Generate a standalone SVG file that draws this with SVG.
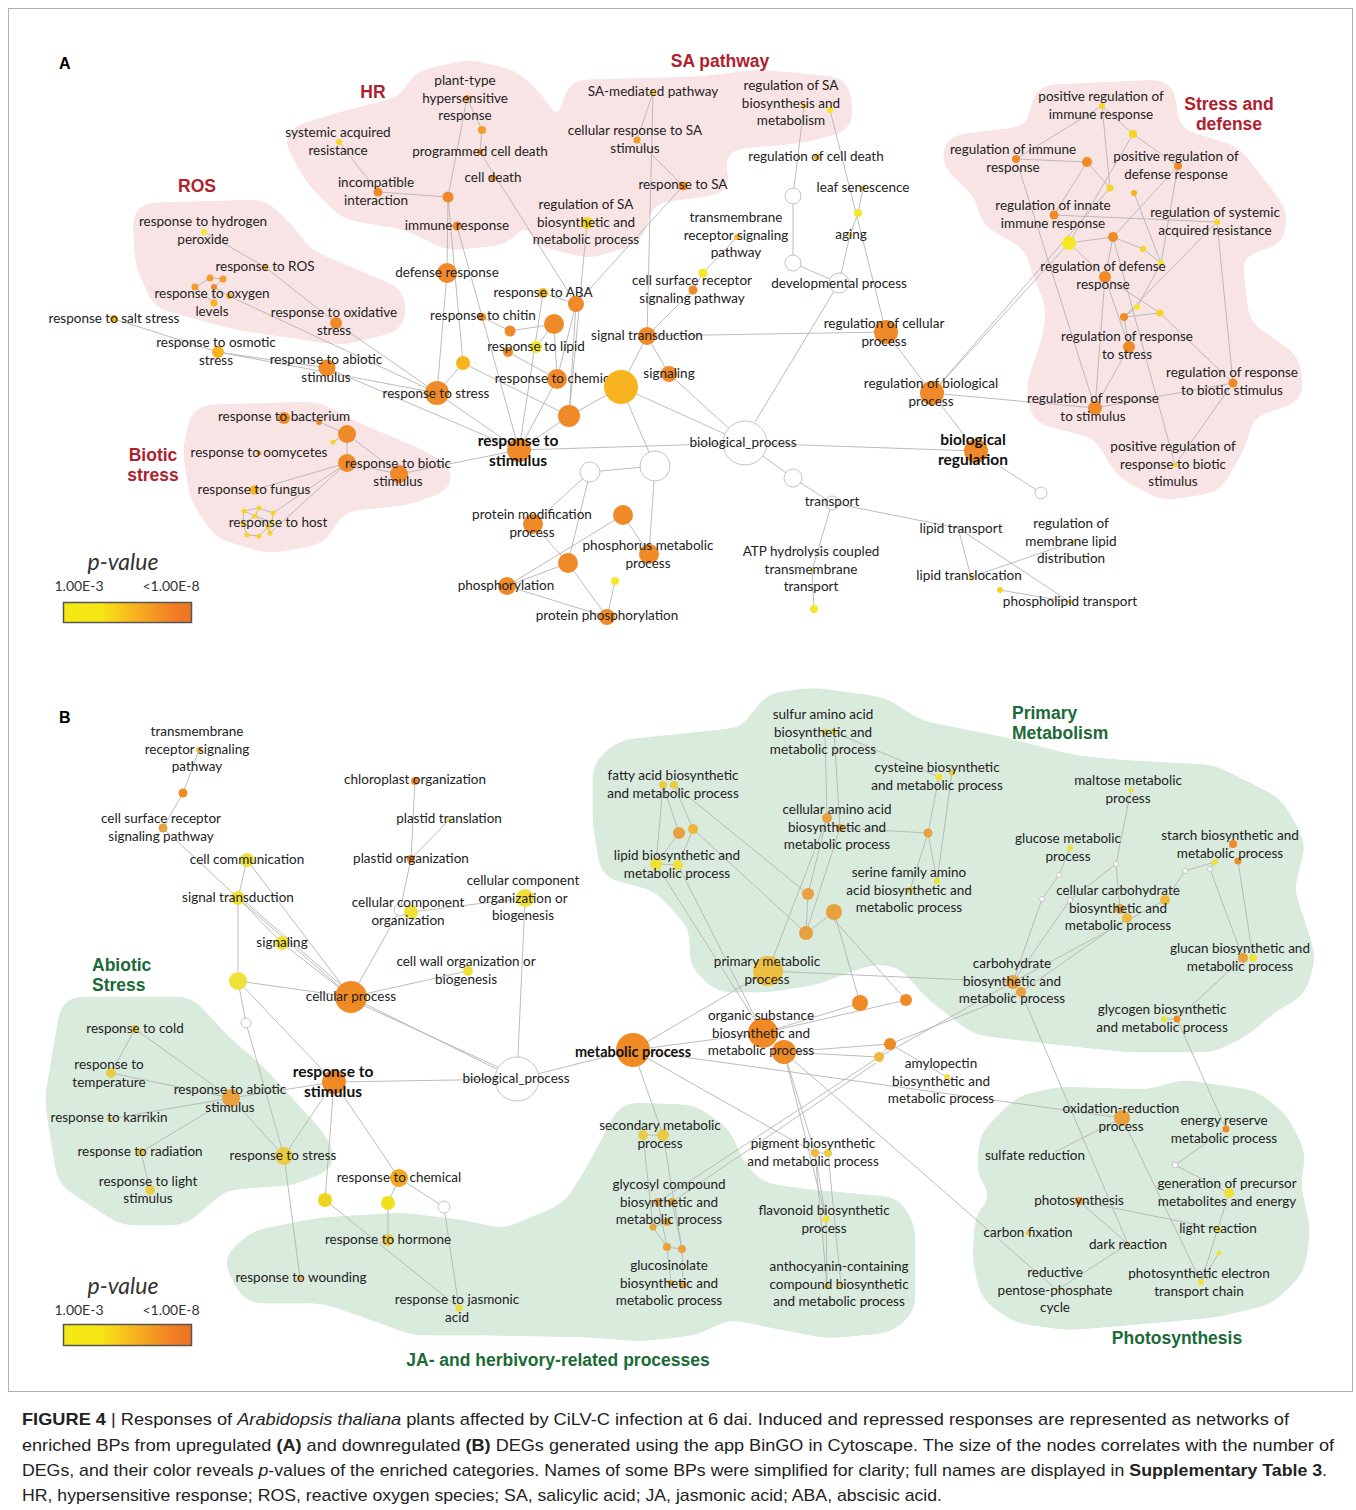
<svg xmlns="http://www.w3.org/2000/svg" width="1356" height="1510" viewBox="0 0 1356 1510">
<defs>
<linearGradient id="pv" x1="0" y1="0" x2="1" y2="0">
<stop offset="0" stop-color="#f3ea12"/><stop offset="0.3" stop-color="#f6e514"/><stop offset="0.55" stop-color="#f7b41e"/><stop offset="0.85" stop-color="#f17f25"/><stop offset="1" stop-color="#ee7322"/>
</linearGradient>
<filter id="goo" x="-5%" y="-5%" width="110%" height="110%">
<feGaussianBlur stdDeviation="9"/>
<feColorMatrix values="1 0 0 0 0  0 1 0 0 0  0 0 1 0 0  0 0 0 30 -14"/>
</filter>
<style>
.pk{fill:#f9e4e5;stroke:#f9e4e5;stroke-width:30;stroke-linejoin:round}
.gn{fill:#d9ebdc;stroke:#d9ebdc;stroke-width:30;stroke-linejoin:round}
.e path{stroke:#b4b4b4;stroke-width:0.9;fill:none}
.c1{fill:#f5e626}.c2{fill:#f7d51f}.c3{fill:#f7b41f}.c4{fill:#f39c2a}.c5{fill:#f08a28}
.cw{fill:#fff;stroke:#c4c4c4;stroke-width:1}
.d1{fill:#efe03a}.d2{fill:#e9cb45}.d3{fill:#edb83c}.d4{fill:#e9a03f}.d5{fill:#ef8a25}
.t{font-family:Lato,"Open Sans",sans-serif;font-size:13.5px;fill:#222;text-anchor:middle}
.tb{font-family:Lato,"Open Sans",sans-serif;font-size:15.5px;font-weight:bold;fill:#111;text-anchor:middle}
.gr{font-family:"Liberation Sans",Arial,sans-serif;font-weight:bold;font-size:17.5px;fill:#b0212d;text-anchor:middle}
.gg{font-family:"Liberation Sans",Arial,sans-serif;font-weight:bold;font-size:17.5px;fill:#1b6a37}
.pl{font-family:"Liberation Sans",Arial,sans-serif;font-weight:bold;font-size:16px;fill:#000}
.lg{font-family:Lato,"Open Sans",sans-serif;font-size:14px;fill:#333;text-anchor:middle}
.lgi{font-family:Lato,"Open Sans",sans-serif;font-size:23px;font-style:italic;fill:#333;text-anchor:middle}
.cap{font-family:"Liberation Sans Narrow","Liberation Sans",Arial,sans-serif;font-size:17px;fill:#222}
</style>
</defs>
<rect x="0" y="0" width="1356" height="1510" fill="#fff"/>
<rect x="8.5" y="8.5" width="1344" height="1383" fill="none" stroke="#b0b0b0" stroke-width="1"/>

<g id="clusters" filter="url(#goo)">
<polygon class="pk" points="300,140 350,125 410,110 425,85 470,75 510,85 535,110 540,150 525,195 500,230 450,235 410,215 350,205 320,175"/>
<polygon class="pk" points="148,218 260,215 285,240 300,262 390,300 390,318 340,330 240,315 165,295 150,260"/>
<polygon class="pk" points="580,95 700,92 760,85 835,92 838,118 800,128 720,135 705,165 715,180 640,190 630,230 590,243 545,232 555,200 575,180 575,130"/>
<polygon class="pk" points="1048,100 1160,95 1165,140 1230,160 1272,215 1270,232 1225,245 1235,330 1285,365 1288,390 1240,405 1232,440 1210,478 1165,485 1128,465 1105,425 1045,410 1042,385 1058,340 1062,305 1045,265 1040,240 995,215 990,190 958,160 958,150 1040,140"/>
<polygon class="pk" points="205,420 315,417 360,440 420,465 438,478 405,490 335,497 315,530 270,538 225,525 205,495 198,450"/>
<polygon class="gn" points="75,1012 185,1012 220,1050 250,1075 310,1140 320,1158 290,1170 220,1175 180,1210 125,1210 72,1175 60,1100"/>
<polygon class="gn" points="608,770 625,755 750,742 775,708 815,703 880,712 915,735 1000,752 1070,770 1115,775 1210,780 1270,810 1290,845 1278,890 1290,925 1300,957 1292,985 1265,1000 1240,1022 1210,1037 1130,1037 1063,1030 1013,1024 980,1020 960,1005 935,985 910,955 880,948 857,953 813,970 767,977 723,977 705,960 705,923 663,877 615,865 608,823"/>
<polygon class="gn" points="240,1262 260,1245 320,1233 400,1228 460,1235 505,1245 575,1215 600,1175 630,1118 690,1120 718,1140 730,1170 755,1197 810,1205 890,1212 900,1230 900,1305 885,1318 827,1323 775,1313 727,1303 693,1320 640,1326 590,1322 486,1320 415,1320 380,1307 326,1288 254,1288"/>
<polygon class="gn" points="995,1140 1025,1110 1060,1102 1150,1105 1183,1095 1250,1105 1275,1125 1290,1155 1285,1185 1295,1230 1290,1265 1265,1290 1215,1302 1150,1308 1067,1315 1020,1308 995,1290 988,1260 990,1220 1015,1200 992,1170"/>
</g>

<g id="group-labels">
<text class="pl" x="59" y="69">A</text>
<text class="pl" x="59" y="723">B</text>
<text class="gr" x="373" y="98">HR</text>
<text class="gr" x="197" y="192">ROS</text>
<text class="gr" x="720" y="67">SA pathway</text>
<text class="gr" x="1229" y="110">Stress and<tspan x="1229" dy="20">defense</tspan></text>
<text class="gr" x="153" y="461">Biotic<tspan x="153" dy="20">stress</tspan></text>
<text class="gg" x="92" y="971">Abiotic<tspan x="92" dy="20">Stress</tspan></text>
<text class="gg" x="1012" y="719">Primary<tspan x="1012" dy="20">Metabolism</tspan></text>
<text class="gg" x="558" y="1366" text-anchor="middle">JA- and herbivory-related processes</text>
<text class="gg" x="1177" y="1344" text-anchor="middle">Photosynthesis</text>
</g>

<g id="connectors" class="e">
<path d="M339 142L378 192"/><path d="M378 192L448 197"/><path d="M448 197L467 98"/><path d="M467 98L482 130"/><path d="M482 130L480 152"/><path d="M480 152L576 304"/><path d="M448 197L463 363"/><path d="M457 226L519 450"/><path d="M448 197L447 273"/><path d="M447 273L437 393"/>
<path d="M204 232L265 267"/><path d="M265 267L336 323"/><path d="M336 323L437 393"/>
<path d="M210 278L223 279"/><path d="M210 278L195 287"/><path d="M223 279L214 287"/><path d="M195 287L214 303"/><path d="M214 287L229 296"/><path d="M214 287L214 303"/><path d="M229 296L437 393"/>
<path d="M114 319L218 352"/><path d="M218 352L327 368"/><path d="M218 352L437 393"/><path d="M327 368L519 450"/><path d="M437 393L519 450"/><path d="M437 393L463 363"/><path d="M463 363L569 416"/>
<path d="M482 317L510 331"/><path d="M510 331L554 324"/><path d="M508 352L557 379"/><path d="M536 347L554 324"/><path d="M543 293L576 304"/><path d="M543 293L519 450"/><path d="M576 304L557 379"/><path d="M576 304L569 416"/><path d="M554 324L557 379"/><path d="M557 379L519 450"/><path d="M569 416L519 450"/><path d="M569 416L621 387"/>
<path d="M587 223L569 416"/><path d="M683 186L576 304"/><path d="M653 93L637 140"/><path d="M637 140L683 186"/><path d="M653 93L647 336"/>
<path d="M804 106L793 196"/><path d="M793 196L793 263"/><path d="M793 263L839 283"/><path d="M830 110L886 332"/>
<path d="M863 188L858 213"/><path d="M858 213L850 235"/><path d="M850 235L839 283"/><path d="M839 283L755 422"/>
<path d="M737 237L703 273"/><path d="M703 273L693 290"/><path d="M693 290L647 336"/><path d="M647 336L886 332"/><path d="M647 336L669 374"/><path d="M647 336L621 387"/><path d="M669 374L745 443"/><path d="M621 387L655 466"/><path d="M621 387L745 443"/>
<path d="M519 450L745 443"/><path d="M745 443L976 451"/><path d="M976 451L932 393"/><path d="M932 393L886 332"/><path d="M932 393L1095 408"/><path d="M932 393L1069 243"/><path d="M932 393L1110 188"/><path d="M976 451L1041 493"/>
<path d="M745 443L793 478"/><path d="M793 478L832 503"/><path d="M832 503L958 528"/><path d="M958 528L971 577"/><path d="M958 528L1070 602"/><path d="M971 577L1073 542"/><path d="M1000 590L1070 602"/><path d="M832 503L812 570"/><path d="M812 570L814 609"/>
<path d="M655 466L590 472"/><path d="M590 472L533 524"/><path d="M590 472L568 563"/><path d="M655 466L649 554"/><path d="M533 524L568 563"/><path d="M623 515L649 554"/><path d="M568 563L507 586"/><path d="M568 563L607 617"/><path d="M507 586L607 617"/><path d="M607 617L615 581"/><path d="M507 586L623 515"/>
<path d="M1102 106L1110 188"/><path d="M1102 106L1016 159"/><path d="M1133 134L1102 106"/><path d="M1133 134L1178 166"/><path d="M1133 134L1069 243"/><path d="M1016 159L1087 162"/><path d="M1087 162L1110 188"/><path d="M1087 162L1054 215"/><path d="M1016 159L1095 408"/><path d="M1054 215L1217 222"/><path d="M1069 243L1113 237"/><path d="M1113 237L1143 249"/><path d="M1143 249L1161 263"/><path d="M1178 166L1113 237"/><path d="M1178 166L1161 263"/><path d="M1134 193L1161 263"/><path d="M1069 243L1105 277"/><path d="M1105 277L1129 347"/><path d="M1105 277L1095 408"/><path d="M1105 277L1160 313"/><path d="M1161 263L1137 307"/><path d="M1137 307L1124 317"/><path d="M1124 317L1160 313"/><path d="M1217 222L1124 317"/><path d="M1217 222L1233 383"/><path d="M1129 347L1095 408"/><path d="M1124 317L1129 347"/><path d="M1233 383L1095 408"/><path d="M1233 383L1175 465"/><path d="M1160 313L1233 383"/><path d="M1113 237L1175 465"/><path d="M1113 237L1105 277"/>
<path d="M284 418L319 422"/><path d="M319 422L347 434"/><path d="M347 434L333 442"/><path d="M347 434L347 463"/><path d="M347 434L399 474"/><path d="M254 490L347 463"/><path d="M273 513L347 463"/><path d="M270 533L347 463"/><path d="M347 463L399 474"/><path d="M399 474L519 450"/>
<path d="M244 511L259 508"/><path d="M259 508L273 513"/><path d="M244 511L255 516"/><path d="M255 516L272 522"/><path d="M244 511L243 524"/><path d="M243 524L247 535"/><path d="M247 535L259 536"/><path d="M259 536L268 527"/><path d="M268 527L272 522"/><path d="M270 533L268 527"/><path d="M255 516L268 527"/><path d="M243 524L255 516"/><path d="M273 513L272 522"/><path d="M259 508L255 516"/>
<path d="M199 750L183 793"/><path d="M183 793L163 828"/><path d="M163 828L238 898"/><path d="M238 898L247 860"/><path d="M247 860L351 997"/><path d="M238 898L282 943"/><path d="M238 898L351 997"/><path d="M243 900L349 992"/><path d="M282 943L351 997"/><path d="M238 898L238 981"/><path d="M238 981L351 997"/><path d="M238 981L246 1023"/><path d="M238 981L334 1082"/><path d="M246 1023L284 1156"/>
<path d="M415 781L411 859"/><path d="M449 820L411 859"/><path d="M411 859L400 910"/><path d="M400 910L351 997"/><path d="M411 912L525 898"/><path d="M468 971L351 997"/><path d="M525 898L517 1079"/><path d="M351 997L517 1079"/><path d="M356 1002L513 1074"/><path d="M517 1079L334 1082"/><path d="M517 1079L633 1050"/>
<path d="M135 1029L111 1073"/><path d="M135 1029L231 1098"/><path d="M111 1073L231 1098"/><path d="M109 1119L231 1098"/><path d="M141 1152L231 1098"/><path d="M141 1152L150 1190"/><path d="M231 1098L334 1082"/><path d="M231 1098L284 1156"/><path d="M284 1156L334 1082"/><path d="M284 1156L300 1278"/><path d="M325 1200L334 1082"/><path d="M334 1082L399 1178"/><path d="M399 1178L388 1203"/><path d="M399 1178L444 1207"/><path d="M388 1203L388 1240"/><path d="M325 1200L459 1308"/><path d="M444 1207L459 1308"/>
<path d="M633 1050L763 1033"/><path d="M633 1050L768 971"/><path d="M633 1050L1122 1118"/><path d="M633 1050L663 1135"/><path d="M633 1050L815 1153"/><path d="M656 864L763 1033"/><path d="M678 865L763 1033"/><path d="M663 785L679 833"/><path d="M674 785L693 829"/><path d="M679 833L656 864"/><path d="M693 829L678 865"/><path d="M656 864L678 865"/><path d="M663 785L656 864"/><path d="M674 785L808 894"/><path d="M693 829L806 933"/>
<path d="M768 971L827 818"/><path d="M768 971L1013 982"/><path d="M763 1033L860 1003"/><path d="M763 1033L906 1000"/><path d="M860 1003L834 912"/><path d="M906 1000L834 920"/><path d="M808 894L806 933"/><path d="M834 912L806 933"/><path d="M808 894L827 818"/><path d="M806 933L840 828"/><path d="M827 818L825 732"/><path d="M840 828L834 732"/><path d="M834 732L939 777"/><path d="M939 777L928 833"/><path d="M952 773L937 881"/><path d="M928 833L910 890"/><path d="M928 833L937 881"/><path d="M840 828L928 833"/>
<path d="M784 1052L890 1044"/><path d="M784 1052L879 1057"/><path d="M879 1057L890 1044"/><path d="M890 1044L947 1077"/><path d="M879 1057L1013 982"/><path d="M890 1044L1021 992"/><path d="M879 1057L658 1202"/><path d="M876 1063L672 1202"/><path d="M784 1052L815 1153"/><path d="M784 1052L826 1219"/><path d="M815 1153L827 1286"/><path d="M828 1153L841 1285"/><path d="M815 1153L826 1219"/><path d="M826 1219L827 1286"/><path d="M815 1153L828 1153"/><path d="M784 1052L1057 1290"/>
<path d="M643 1135L663 1135"/><path d="M643 1135L653 1227"/><path d="M663 1135L682 1249"/><path d="M658 1202L672 1202"/><path d="M653 1227L667 1222"/><path d="M658 1202L667 1247"/><path d="M672 1202L682 1249"/><path d="M667 1247L682 1249"/><path d="M667 1247L671 1283"/><path d="M682 1249L683 1285"/><path d="M653 1227L667 1247"/>
<path d="M1013 982L1042 899"/><path d="M1042 899L1059 875"/><path d="M1059 875L1070 848"/><path d="M1013 982L1070 900"/><path d="M1070 900L1116 864"/><path d="M1116 864L1131 790"/><path d="M1116 864L1120 909"/><path d="M1013 982L1165 900"/><path d="M1021 992L1127 918"/><path d="M1165 900L1185 871"/><path d="M1185 871L1215 862"/><path d="M1215 862L1233 844"/><path d="M1210 869L1243 958"/><path d="M1210 869L1215 862"/><path d="M1238 861L1253 958"/><path d="M1243 958L1177 1019"/><path d="M1164 1019L1177 1019"/><path d="M1021 992L1128 1244"/><path d="M1177 1019L1226 1129"/>
<path d="M1122 1118L1055 1152"/><path d="M1122 1118L1201 1282"/><path d="M1175 1165L1226 1129"/><path d="M1229 1193L1175 1165"/><path d="M1079 1201L1218 1229"/><path d="M1079 1201L1128 1244"/><path d="M1128 1244L1057 1290"/><path d="M1229 1193L1201 1282"/><path d="M1219 1253L1201 1282"/>
</g>

<g id="nodes-A">
<g id="a-sar"><circle class="c2" cx="339" cy="142" r="3"/><text class="t" x="338" y="137">systemic acquired<tspan x="338" dy="17.5">resistance</tspan></text></g>
<g id="a-hr"><circle class="c5" cx="467" cy="98" r="3"/><text class="t" x="465" y="85">plant-type<tspan x="465" dy="17.5">hypersensitive</tspan><tspan x="465" dy="17.5">response</tspan></text></g>
<g id="a-n1"><circle class="c4" cx="482" cy="130" r="4"/></g>
<g id="a-pcd"><circle class="c5" cx="480" cy="152" r="3"/><text class="t" x="480" y="156">programmed cell death</text></g>
<g id="a-cd"><circle class="c5" cx="493" cy="178" r="3"/><text class="t" x="493" y="182">cell death</text></g>
<g id="a-incomp"><circle class="c5" cx="378" cy="192" r="4.5"/><text class="t" x="376" y="187">incompatible<tspan x="376" dy="17.5">interaction</tspan></text></g>
<g id="a-n2"><circle class="c5" cx="448" cy="197" r="5.5"/></g>
<g id="a-immune"><circle class="c5" cx="457" cy="226" r="4.5"/><text class="t" x="457" y="230">immune response</text></g>
<g id="a-defense"><circle class="c5" cx="447" cy="273" r="10"/><text class="t" x="447" y="277">defense response</text></g>
<g id="a-h2o2"><circle class="c1" cx="204" cy="232" r="3"/><text class="t" x="203" y="226">response to hydrogen<tspan x="203" dy="17.5">peroxide</tspan></text></g>
<g id="a-ros"><circle class="c3" cx="265" cy="267" r="3"/><text class="t" x="265" y="271">response to ROS</text></g>
<g id="a-n3"><circle class="c4" cx="210" cy="278" r="3.5"/></g>
<g id="a-n4"><circle class="c4" cx="223" cy="279" r="3.5"/></g>
<g id="a-n5"><circle class="c4" cx="195" cy="287" r="3.5"/></g>
<g id="a-n6"><circle class="c5" cx="214" cy="287" r="3"/></g>
<g id="a-n7"><circle class="c3" cx="229" cy="296" r="3"/></g>
<g id="a-oxy"><circle class="c3" cx="214" cy="303" r="3.5"/><text class="t" x="212" y="298">response to oxygen<tspan x="212" dy="17.5">levels</tspan></text></g>
<g id="a-salt"><circle class="c3" cx="114" cy="319" r="4"/><text class="t" x="114" y="323">response to salt stress</text></g>
<g id="a-oxid"><circle class="c5" cx="336" cy="323" r="6"/><text class="t" x="334" y="317">response to oxidative<tspan x="334" dy="17.5">stress</tspan></text></g>
<g id="a-osm"><circle class="c3" cx="218" cy="352" r="6"/><text class="t" x="216" y="347">response to osmotic<tspan x="216" dy="17.5">stress</tspan></text></g>
<g id="a-abio"><circle class="c5" cx="327" cy="368" r="8.5"/><text class="t" x="326" y="364">response to abiotic<tspan x="326" dy="17.5">stimulus</tspan></text></g>
<g id="a-stress"><circle class="c5" cx="437" cy="393" r="12"/><text class="t" x="436" y="398">response to stress</text></g>
<g id="a-n8"><circle class="c3" cx="463" cy="363" r="7"/></g>
<g id="a-chitin"><circle class="c5" cx="482" cy="317" r="4"/><text class="t" x="483" y="320">response to chitin</text></g>
<g id="a-n9"><circle class="c5" cx="510" cy="331" r="5.5"/></g>
<g id="a-n10"><circle class="c5" cx="508" cy="352" r="5"/></g>
<g id="a-aba"><circle class="c3" cx="543" cy="293" r="5"/><text class="t" x="543" y="297">response to ABA</text></g>
<g id="a-n11"><circle class="c5" cx="576" cy="304" r="8"/></g>
<g id="a-n12"><circle class="c5" cx="554" cy="324" r="10"/></g>
<g id="a-lipid"><circle class="c1" cx="536" cy="347" r="6"/><text class="t" x="536" y="351">response to lipid</text></g>
<g id="a-chem"><circle class="c5" cx="557" cy="379" r="10"/><text class="t" x="557" y="383">response to chemical</text></g>
<g id="a-n13"><circle class="c3" cx="621" cy="387" r="17"/></g>
<g id="a-n14"><circle class="c5" cx="569" cy="416" r="11"/></g>
<g id="a-stim"><circle class="c5" cx="519" cy="450" r="12"/><text class="tb" x="518" y="446">response to<tspan x="518" dy="20">stimulus</tspan></text></g>
<g id="a-sam"><circle class="c2" cx="653" cy="93" r="3"/><text class="t" x="653" y="96">SA-mediated pathway</text></g>
<g id="a-regsabm"><circle class="c2" cx="804" cy="106" r="2.5"/><circle class="c1" cx="830" cy="110" r="3"/><text class="t" x="791" y="90">regulation of SA<tspan x="791" dy="17.5">biosynthesis and</tspan><tspan x="791" dy="17.5">metabolism</tspan></text></g>
<g id="a-crsa"><circle class="c4" cx="637" cy="140" r="3.5"/><text class="t" x="635" y="135">cellular response to SA<tspan x="635" dy="17.5">stimulus</tspan></text></g>
<g id="a-rcd"><circle class="c3" cx="817" cy="157" r="3"/><text class="t" x="816" y="161">regulation of cell death</text></g>
<g id="a-rsa"><circle class="c5" cx="683" cy="186" r="4.5"/><text class="t" x="683" y="189">response to SA</text></g>
<g id="a-leaf"><circle class="c2" cx="863" cy="188" r="2.5"/><text class="t" x="863" y="192">leaf senescence</text></g>
<g id="a-regsa"><circle class="c2" cx="587" cy="223" r="6"/><text class="t" x="586" y="209">regulation of SA<tspan x="586" dy="17.5">biosynthetic and</tspan><tspan x="586" dy="17.5">metabolic process</tspan></text></g>
<g id="a-tm"><circle class="c3" cx="737" cy="237" r="3"/><text class="t" x="736" y="222">transmembrane<tspan x="736" dy="17.5">receptor signaling</tspan><tspan x="736" dy="17.5">pathway</tspan></text></g>
<g id="a-n15"><circle class="c1" cx="858" cy="213" r="4"/></g>
<g id="a-aging"><circle class="c2" cx="850" cy="235" r="2"/><text class="t" x="851" y="239">aging</text></g>
<g id="a-csr"><circle class="c1" cx="703" cy="273" r="4.5"/><circle class="c5" cx="693" cy="290" r="4.5"/><text class="t" x="692" y="285">cell surface receptor<tspan x="692" dy="17.5">signaling pathway</tspan></text></g>
<g id="a-w1"><circle class="cw" cx="793" cy="196" r="8"/></g>
<g id="a-w2"><circle class="cw" cx="793" cy="263" r="8"/></g>
<g id="a-dev"><circle class="cw" cx="839" cy="283" r="10"/><text class="t" x="839" y="288">developmental process</text></g>
<g id="a-st"><circle class="c5" cx="647" cy="336" r="9"/><text class="t" x="647" y="340">signal transduction</text></g>
<g id="a-rcp"><circle class="c5" cx="886" cy="332" r="12"/><text class="t" x="884" y="328">regulation of cellular<tspan x="884" dy="17.5">process</tspan></text></g>
<g id="a-sig"><circle class="c5" cx="669" cy="374" r="8"/><text class="t" x="669" y="378">signaling</text></g>
<g id="a-rbp"><circle class="c5" cx="932" cy="393" r="12"/><text class="t" x="931" y="388">regulation of biological<tspan x="931" dy="17.5">process</tspan></text></g>
<g id="a-bp"><circle class="cw" cx="745" cy="443" r="22"/><text class="t" x="743" y="447">biological_process</text></g>
<g id="a-breg"><circle class="c5" cx="976" cy="451" r="12"/><text class="tb" x="973" y="445">biological<tspan x="973" dy="20">regulation</tspan></text></g>
<g id="a-w3"><circle class="cw" cx="1041" cy="493" r="6"/></g>
<g id="a-prir"><circle class="c2" cx="1102" cy="106" r="3"/><text class="t" x="1101" y="101">positive regulation of<tspan x="1101" dy="17.5">immune response</tspan></text></g>
<g id="a-n16"><circle class="c2" cx="1133" cy="134" r="4"/></g>
<g id="a-rir"><circle class="c5" cx="1016" cy="159" r="4"/><text class="t" x="1013" y="154">regulation of immune<tspan x="1013" dy="17.5">response</tspan></text></g>
<g id="a-n17"><circle class="c5" cx="1087" cy="162" r="5"/></g>
<g id="a-prdr"><circle class="c5" cx="1178" cy="166" r="4"/><text class="t" x="1176" y="161">positive regulation of<tspan x="1176" dy="17.5">defense response</tspan></text></g>
<g id="a-n18"><circle class="c2" cx="1110" cy="188" r="3.5"/></g>
<g id="a-n19"><circle class="c3" cx="1134" cy="193" r="3"/></g>
<g id="a-riir"><circle class="c5" cx="1054" cy="215" r="4.5"/><text class="t" x="1053" y="210">regulation of innate<tspan x="1053" dy="17.5">immune response</tspan></text></g>
<g id="a-rsar"><circle class="c2" cx="1217" cy="222" r="3"/><text class="t" x="1215" y="217">regulation of systemic<tspan x="1215" dy="17.5">acquired resistance</tspan></text></g>
<g id="a-n20"><circle class="c1" cx="1069" cy="243" r="7"/></g>
<g id="a-n21"><circle class="c5" cx="1113" cy="237" r="5"/></g>
<g id="a-n22"><circle class="c2" cx="1143" cy="249" r="3"/></g>
<g id="a-n23"><circle class="c1" cx="1161" cy="263" r="3"/></g>
<g id="a-rdr"><circle class="c5" cx="1105" cy="277" r="6"/><text class="t" x="1103" y="271">regulation of defense<tspan x="1103" dy="17.5">response</tspan></text></g>
<g id="a-n24"><circle class="c1" cx="1137" cy="307" r="3"/></g>
<g id="a-n25"><circle class="c2" cx="1160" cy="313" r="3.5"/></g>
<g id="a-n26"><circle class="c5" cx="1124" cy="317" r="4"/></g>
<g id="a-rrs"><circle class="c5" cx="1129" cy="347" r="6"/><text class="t" x="1127" y="341">regulation of response<tspan x="1127" dy="17.5">to stress</tspan></text></g>
<g id="a-rrbs"><circle class="c5" cx="1233" cy="383" r="4.5"/><text class="t" x="1232" y="377">regulation of response<tspan x="1232" dy="17.5">to biotic stimulus</tspan></text></g>
<g id="a-rrst"><circle class="c5" cx="1095" cy="408" r="7"/><text class="t" x="1093" y="403">regulation of response<tspan x="1093" dy="17.5">to stimulus</tspan></text></g>
<g id="a-prrbs"><circle class="c2" cx="1175" cy="465" r="2.5"/><text class="t" x="1173" y="451">positive regulation of<tspan x="1173" dy="17.5">response to biotic</tspan><tspan x="1173" dy="17.5">stimulus</tspan></text></g>
<g id="a-bact"><circle class="c5" cx="284" cy="418" r="6"/><circle class="c5" cx="319" cy="422" r="3"/><text class="t" x="284" y="421">response to bacterium</text></g>
<g id="a-n27"><circle class="c5" cx="347" cy="434" r="9"/></g>
<g id="a-n28"><circle class="c2" cx="333" cy="442" r="2.5"/></g>
<g id="a-oomy"><circle class="c4" cx="259" cy="453" r="2.5"/><text class="t" x="259" y="457">response to oomycetes</text></g>
<g id="a-n29"><circle class="c5" cx="347" cy="463" r="9"/></g>
<g id="a-rbs"><circle class="c5" cx="399" cy="474" r="9"/><text class="t" x="398" y="468">response to biotic<tspan x="398" dy="17.5">stimulus</tspan></text></g>
<g id="a-fung"><circle class="c3" cx="254" cy="490" r="4.5"/><text class="t" x="254" y="494">response to fungus</text></g>
<g id="a-host"><circle class="c2" cx="244" cy="511" r="2.5"/><circle class="c2" cx="259" cy="508" r="2.5"/><circle class="c2" cx="273" cy="513" r="2.5"/><circle class="c2" cx="255" cy="516" r="2.5"/><circle class="c2" cx="243" cy="524" r="2.5"/><circle class="c2" cx="272" cy="522" r="2.5"/><circle class="c2" cx="268" cy="527" r="2.5"/><circle class="c2" cx="270" cy="533" r="2.5"/><circle class="c2" cx="247" cy="535" r="2.5"/><circle class="c2" cx="259" cy="536" r="2.5"/><text class="t" x="278" y="527">response to host</text></g>
<g id="a-w4"><circle class="cw" cx="655" cy="466" r="15"/></g>
<g id="a-w5"><circle class="cw" cx="590" cy="472" r="10"/></g>
<g id="a-pmp"><circle class="c5" cx="533" cy="524" r="10"/><text class="t" x="532" y="519">protein modification<tspan x="532" dy="17.5">process</tspan></text></g>
<g id="a-n30"><circle class="c5" cx="623" cy="515" r="10"/></g>
<g id="a-phmp"><circle class="c5" cx="649" cy="554" r="10"/><text class="t" x="648" y="550">phosphorus metabolic<tspan x="648" dy="17.5">process</tspan></text></g>
<g id="a-n31"><circle class="c5" cx="568" cy="563" r="10"/></g>
<g id="a-phos"><circle class="c5" cx="507" cy="586" r="9"/><text class="t" x="506" y="590">phosphorylation</text></g>
<g id="a-n32"><circle class="c1" cx="615" cy="581" r="4"/></g>
<g id="a-pp"><circle class="c5" cx="607" cy="617" r="8"/><text class="t" x="607" y="620">protein phosphorylation</text></g>
<g id="a-w6"><circle class="cw" cx="793" cy="478" r="9"/></g>
<g id="a-tr"><circle class="cw" cx="832" cy="503" r="7"/><text class="t" x="832" y="506">transport</text></g>
<g id="a-atp"><circle class="c1" cx="812" cy="570" r="2"/><circle class="c1" cx="814" cy="609" r="4"/><text class="t" x="811" y="556">ATP hydrolysis coupled<tspan x="811" dy="17.5">transmembrane</tspan><tspan x="811" dy="17.5">transport</tspan></text></g>
<g id="a-lt"><text class="t" x="961" y="533">lipid transport</text></g>
<g id="a-rmld"><circle class="c2" cx="1073" cy="542" r="2"/><text class="t" x="1071" y="528">regulation of<tspan x="1071" dy="17.5">membrane lipid</tspan><tspan x="1071" dy="17.5">distribution</tspan></text></g>
<g id="a-ltl"><circle class="c2" cx="971" cy="577" r="2"/><text class="t" x="969" y="580">lipid translocation</text></g>
<g id="a-n33"><circle class="c2" cx="1000" cy="590" r="3"/></g>
<g id="a-plt"><circle class="c2" cx="1070" cy="602" r="2"/><text class="t" x="1070" y="606">phospholipid transport</text></g>
</g>

<g id="legend-A">
<text class="lgi" x="123" y="570">p-value</text>
<text class="lg" x="79" y="591">1.00E-3</text>
<text class="lg" x="171" y="591">&lt;1.00E-8</text>
<rect x="63.5" y="602.5" width="128" height="20" fill="url(#pv)" stroke="#555" stroke-width="1.5"/>
</g>

<g id="nodes-B">
<g id="b-tm"><circle class="d3" cx="199" cy="750" r="3"/><text class="t" x="197" y="736">transmembrane<tspan x="197" dy="17.5">receptor signaling</tspan><tspan x="197" dy="17.5">pathway</tspan></text></g>
<g id="b-n1"><circle class="d5" cx="183" cy="793" r="4.5"/></g>
<g id="b-csr"><circle class="d4" cx="163" cy="828" r="4.5"/><text class="t" x="161" y="823">cell surface receptor<tspan x="161" dy="17.5">signaling pathway</tspan></text></g>
<g id="b-cc"><circle class="d1" cx="247" cy="860" r="7"/><text class="t" x="247" y="864">cell communication</text></g>
<g id="b-st"><circle class="d1" cx="238" cy="898" r="7"/><text class="t" x="238" y="902">signal transduction</text></g>
<g id="b-sig"><circle class="d1" cx="282" cy="943" r="7"/><text class="t" x="282" y="947">signaling</text></g>
<g id="b-n2"><circle class="d1" cx="238" cy="981" r="9"/></g>
<g id="b-cp"><circle class="d5" cx="351" cy="997" r="16"/><text class="t" x="351" y="1001">cellular process</text></g>
<g id="b-co"><circle class="d5" cx="415" cy="781" r="4"/><text class="t" x="415" y="784">chloroplast organization</text></g>
<g id="b-pt"><circle class="d1" cx="449" cy="820" r="2"/><text class="t" x="449" y="823">plastid translation</text></g>
<g id="b-po"><circle class="d5" cx="411" cy="859" r="4"/><text class="t" x="411" y="863">plastid organization</text></g>
<g id="b-cco"><circle class="cw" cx="400" cy="910" r="6"/><circle class="d1" cx="411" cy="912" r="7"/><text class="t" x="408" y="907">cellular component<tspan x="408" dy="17.5">organization</tspan></text></g>
<g id="b-ccob"><circle class="d1" cx="525" cy="898" r="9"/><text class="t" x="523" y="885">cellular component<tspan x="523" dy="17.5">organization or</tspan><tspan x="523" dy="17.5">biogenesis</tspan></text></g>
<g id="b-cwo"><circle class="d1" cx="468" cy="971" r="5"/><text class="t" x="466" y="966">cell wall organization or<tspan x="466" dy="17.5">biogenesis</tspan></text></g>
<g id="b-w1"><circle class="cw" cx="246" cy="1023" r="5"/></g>
<g id="b-cold"><circle class="d2" cx="135" cy="1029" r="4"/><text class="t" x="135" y="1033">response to cold</text></g>
<g id="b-temp"><circle class="d2" cx="111" cy="1073" r="5"/><text class="t" x="109" y="1069">response to<tspan x="109" dy="17.5">temperature</tspan></text></g>
<g id="b-abio"><circle class="d4" cx="231" cy="1098" r="9"/><text class="t" x="230" y="1094">response to abiotic<tspan x="230" dy="17.5">stimulus</tspan></text></g>
<g id="b-stim"><circle class="d5" cx="334" cy="1082" r="12"/><text class="tb" x="333" y="1077">response to<tspan x="333" dy="20">stimulus</tspan></text></g>
<g id="b-bp"><circle class="cw" cx="517" cy="1079" r="22"/><text class="t" x="516" y="1083">biological_process</text></g>
<g id="b-karr"><circle class="d2" cx="109" cy="1119" r="2.5"/><text class="t" x="109" y="1122">response to karrikin</text></g>
<g id="b-rad"><circle class="d2" cx="141" cy="1152" r="4"/><text class="t" x="140" y="1156">response to radiation</text></g>
<g id="b-light"><circle class="d2" cx="150" cy="1190" r="5"/><text class="t" x="148" y="1186">response to light<tspan x="148" dy="17">stimulus</tspan></text></g>
<g id="b-stress"><circle class="d2" cx="284" cy="1156" r="9"/><text class="t" x="283" y="1160">response to stress</text></g>
<g id="b-n3"><circle fill="#f3d21a" cx="325" cy="1200" r="7"/></g>
<g id="b-chem"><circle fill="#f3a81c" cx="399" cy="1178" r="9"/><text class="t" x="399" y="1182">response to chemical</text></g>
<g id="b-n4"><circle fill="#f0e020" cx="388" cy="1203" r="7"/></g>
<g id="b-w2"><circle class="cw" cx="444" cy="1207" r="6"/></g>
<g id="b-horm"><circle class="d2" cx="388" cy="1240" r="6"/><text class="t" x="388" y="1244">response to hormone</text></g>
<g id="b-wound"><circle class="d3" cx="300" cy="1278" r="3"/><text class="t" x="301" y="1282">response to wounding</text></g>
<g id="b-ja"><circle class="d1" cx="459" cy="1308" r="3.5"/><text class="t" x="457" y="1304">response to jasmonic<tspan x="457" dy="17.5">acid</tspan></text></g>
<g id="b-mp"><circle class="d5" cx="633" cy="1050" r="17"/><text class="tb" x="633" y="1057" style="font-size:14.5px">metabolic process</text></g>
<g id="b-sulf"><circle class="d2" cx="825" cy="732" r="3"/><circle class="d1" cx="834" cy="732" r="3"/><text class="t" x="823" y="719">sulfur amino acid<tspan x="823" dy="17.5">biosynthetic and</tspan><tspan x="823" dy="17.5">metabolic process</tspan></text></g>
<g id="b-fatty"><circle class="d2" cx="663" cy="785" r="4"/><circle class="d2" cx="674" cy="785" r="4"/><text class="t" x="673" y="780">fatty acid biosynthetic<tspan x="673" dy="17.5">and metabolic process</tspan></text></g>
<g id="b-cys"><circle class="d1" cx="939" cy="777" r="3.5"/><circle class="d2" cx="952" cy="773" r="3"/><text class="t" x="937" y="772">cysteine biosynthetic<tspan x="937" dy="17.5">and metabolic process</tspan></text></g>
<g id="b-caa"><circle class="d4" cx="827" cy="818" r="5"/><circle class="d4" cx="840" cy="828" r="4"/><text class="t" x="837" y="814">cellular amino acid<tspan x="837" dy="17.5">biosynthetic and</tspan><tspan x="837" dy="17.5">metabolic process</tspan></text></g>
<g id="b-n5"><circle class="d4" cx="928" cy="833" r="4.5"/></g>
<g id="b-n6"><circle class="d4" cx="679" cy="833" r="6"/></g>
<g id="b-n7"><circle class="d3" cx="693" cy="829" r="5"/></g>
<g id="b-lip"><circle class="d1" cx="656" cy="864" r="6"/><circle class="d1" cx="678" cy="865" r="5"/><text class="t" x="677" y="860">lipid biosynthetic and<tspan x="677" dy="17.5">metabolic process</tspan></text></g>
<g id="b-ser"><circle class="d1" cx="937" cy="881" r="3"/><circle class="d2" cx="910" cy="890" r="3"/><text class="t" x="909" y="877">serine family amino<tspan x="909" dy="17.5">acid biosynthetic and</tspan><tspan x="909" dy="17.5">metabolic process</tspan></text></g>
<g id="b-n8"><circle class="d4" cx="808" cy="894" r="6"/></g>
<g id="b-n9"><circle class="d4" cx="834" cy="912" r="8"/></g>
<g id="b-n10"><circle class="d4" cx="806" cy="933" r="7"/></g>
<g id="b-pmp"><circle fill="#ecbf40" cx="768" cy="971" r="15"/><text class="t" x="767" y="966">primary metabolic<tspan x="767" dy="17.5">process</tspan></text></g>
<g id="b-n11"><circle class="d5" cx="860" cy="1003" r="8"/></g>
<g id="b-n12"><circle class="d5" cx="906" cy="1000" r="6"/></g>
<g id="b-osb"><circle class="d5" cx="763" cy="1033" r="15"/><circle class="d5" cx="784" cy="1052" r="12"/><text class="t" x="761" y="1020">organic substance<tspan x="761" dy="17.5">biosynthetic and</tspan><tspan x="761" dy="17.5">metabolic process</tspan></text></g>
<g id="b-n13"><circle class="d5" cx="890" cy="1044" r="6"/></g>
<g id="b-n14"><circle class="d3" cx="879" cy="1057" r="5"/></g>
<g id="b-amy"><circle class="d1" cx="947" cy="1077" r="3"/><text class="t" x="941" y="1068">amylopectin<tspan x="941" dy="17.5">biosynthetic and</tspan><tspan x="941" dy="17.5">metabolic process</tspan></text></g>
<g id="b-malt"><circle class="d1" cx="1131" cy="790" r="2.5"/><text class="t" x="1128" y="785">maltose metabolic<tspan x="1128" dy="17.5">process</tspan></text></g>
<g id="b-gluc"><circle class="d1" cx="1070" cy="848" r="3"/><text class="t" x="1068" y="843">glucose metabolic<tspan x="1068" dy="17.5">process</tspan></text></g>
<g id="b-starch"><circle class="d5" cx="1233" cy="844" r="4"/><circle class="d5" cx="1238" cy="861" r="3.5"/><circle class="d1" cx="1215" cy="862" r="3"/><text class="t" x="1230" y="840">starch biosynthetic and<tspan x="1230" dy="17.5">metabolic process</tspan></text></g>
<g id="b-w4"><circle class="cw" cx="1116" cy="864" r="2.5"/></g>
<g id="b-w5"><circle class="cw" cx="1059" cy="875" r="2.5"/></g>
<g id="b-w6"><circle class="cw" cx="1042" cy="899" r="2.5"/></g>
<g id="b-w7"><circle class="cw" cx="1070" cy="900" r="2.5"/></g>
<g id="b-w8"><circle class="cw" cx="1185" cy="871" r="2.5"/></g>
<g id="b-w9"><circle class="cw" cx="1210" cy="869" r="2.5"/></g>
<g id="b-ccarb"><circle class="d4" cx="1120" cy="909" r="5"/><circle class="d3" cx="1165" cy="900" r="5"/><circle class="d3" cx="1127" cy="918" r="5"/><text class="t" x="1118" y="895">cellular carbohydrate<tspan x="1118" dy="17.5">biosynthetic and</tspan><tspan x="1118" dy="17.5">metabolic process</tspan></text></g>
<g id="b-glucan"><circle class="d4" cx="1243" cy="958" r="5"/><circle class="d1" cx="1253" cy="958" r="4"/><text class="t" x="1240" y="953">glucan biosynthetic and<tspan x="1240" dy="17.5">metabolic process</tspan></text></g>
<g id="b-carb"><circle class="d4" cx="1013" cy="982" r="7"/><circle class="d4" cx="1021" cy="992" r="5"/><text class="t" x="1012" y="968">carbohydrate<tspan x="1012" dy="17.5">biosynthetic and</tspan><tspan x="1012" dy="17.5">metabolic process</tspan></text></g>
<g id="b-glyc"><circle class="d1" cx="1164" cy="1019" r="3"/><circle class="d5" cx="1177" cy="1019" r="3.5"/><text class="t" x="1162" y="1014">glycogen biosynthetic<tspan x="1162" dy="17.5">and metabolic process</tspan></text></g>
<g id="b-sec"><circle class="d2" cx="643" cy="1135" r="5"/><circle class="d2" cx="663" cy="1135" r="6"/><text class="t" x="660" y="1130">secondary metabolic<tspan x="660" dy="17.5">process</tspan></text></g>
<g id="b-pig"><circle class="d3" cx="815" cy="1153" r="4"/><circle class="d2" cx="828" cy="1153" r="4"/><text class="t" x="813" y="1148">pigment biosynthetic<tspan x="813" dy="17.5">and metabolic process</tspan></text></g>
<g id="b-glyco"><circle class="d4" cx="658" cy="1202" r="4"/><circle class="d4" cx="672" cy="1202" r="4"/><circle class="d4" cx="653" cy="1227" r="3.5"/><circle class="d4" cx="667" cy="1222" r="4"/><text class="t" x="669" y="1189">glycosyl compound<tspan x="669" dy="17.5">biosynthetic and</tspan><tspan x="669" dy="17.5">metabolic process</tspan></text></g>
<g id="b-n15"><circle class="d4" cx="667" cy="1247" r="4"/></g>
<g id="b-n16"><circle class="d4" cx="682" cy="1249" r="4"/></g>
<g id="b-gsl"><circle class="d4" cx="671" cy="1283" r="3"/><circle class="d4" cx="683" cy="1285" r="3.5"/><text class="t" x="669" y="1270">glucosinolate<tspan x="669" dy="17.5">biosynthetic and</tspan><tspan x="669" dy="17.5">metabolic  process</tspan></text></g>
<g id="b-flav"><circle class="d1" cx="826" cy="1219" r="3.5"/><text class="t" x="824" y="1215">flavonoid biosynthetic<tspan x="824" dy="17.5">process</tspan></text></g>
<g id="b-antho"><circle class="d2" cx="827" cy="1286" r="2.5"/><circle class="d2" cx="841" cy="1285" r="2.5"/><text class="t" x="839" y="1271">anthocyanin-containing<tspan x="839" dy="17.5">compound biosynthetic</tspan><tspan x="839" dy="17.5">and  metabolic process</tspan></text></g>
<g id="b-ox"><circle class="d4" cx="1122" cy="1118" r="8"/><text class="t" x="1121" y="1113">oxidation-reduction<tspan x="1121" dy="17.5">process</tspan></text></g>
<g id="b-er"><circle class="d5" cx="1226" cy="1129" r="3.5"/><text class="t" x="1224" y="1125">energy reserve<tspan x="1224" dy="17.5">metabolic process</tspan></text></g>
<g id="b-sr"><text class="t" x="1035" y="1160">sulfate reduction</text></g>
<g id="b-w3"><circle class="cw" cx="1175" cy="1165" r="3"/></g>
<g id="b-gen"><circle class="d1" cx="1229" cy="1193" r="5"/><text class="t" x="1227" y="1188">generation of precursor<tspan x="1227" dy="17.5">metabolites and energy</tspan></text></g>
<g id="b-ps"><circle class="d4" cx="1079" cy="1201" r="4"/><text class="t" x="1079" y="1205">photosynthesis</text></g>
<g id="b-cf"><circle class="d2" cx="1028" cy="1233" r="2.5"/><text class="t" x="1028" y="1237">carbon fixation</text></g>
<g id="b-dr"><circle class="d4" cx="1128" cy="1244" r="2"/><text class="t" x="1128" y="1249">dark reaction</text></g>
<g id="b-lr"><circle class="d1" cx="1218" cy="1229" r="3"/><text class="t" x="1218" y="1233">light reaction</text></g>
<g id="b-n17"><circle class="d1" cx="1219" cy="1253" r="2.5"/></g>
<g id="b-pet"><circle class="d1" cx="1201" cy="1282" r="3"/><text class="t" x="1199" y="1278">photosynthetic electron<tspan x="1199" dy="17.5">transport chain</tspan></text></g>
<g id="b-rpp"><circle class="d2" cx="1057" cy="1290" r="2"/><text class="t" x="1055" y="1277">reductive<tspan x="1055" dy="17.5">pentose-phosphate</tspan><tspan x="1055" dy="17.5">cycle</tspan></text></g>
</g>

<g id="legend-B">
<text class="lgi" x="123" y="1294">p-value</text>
<text class="lg" x="79" y="1315">1.00E-3</text>
<text class="lg" x="171" y="1315">&lt;1.00E-8</text>
<rect x="63.5" y="1324.5" width="128" height="21" fill="url(#pv)" stroke="#555" stroke-width="1.5"/>
</g>

<g id="caption">
<text class="cap" x="22" y="1425" textLength="1267" lengthAdjust="spacingAndGlyphs"><tspan font-weight="bold">FIGURE 4</tspan> | Responses of <tspan font-style="italic">Arabidopsis thaliana</tspan> plants affected by CiLV-C infection at 6 dai. Induced and repressed responses are represented as networks of</text>
<text class="cap" x="22" y="1451" textLength="1312" lengthAdjust="spacingAndGlyphs">enriched BPs from upregulated <tspan font-weight="bold">(A)</tspan> and downregulated <tspan font-weight="bold">(B)</tspan> DEGs generated using the app BinGO in Cytoscape. The size of the nodes correlates with the number of</text>
<text class="cap" x="22" y="1476" textLength="1305" lengthAdjust="spacingAndGlyphs">DEGs, and their color reveals <tspan font-style="italic">p</tspan>-values of the enriched categories. Names of some BPs were simplified for clarity; full names are displayed in <tspan font-weight="bold">Supplementary Table 3</tspan>.</text>
<text class="cap" x="22" y="1501" textLength="920" lengthAdjust="spacingAndGlyphs">HR, hypersensitive response; ROS, reactive oxygen species; SA, salicylic acid; JA, jasmonic acid; ABA, abscisic acid.</text>
</g>
</svg>
